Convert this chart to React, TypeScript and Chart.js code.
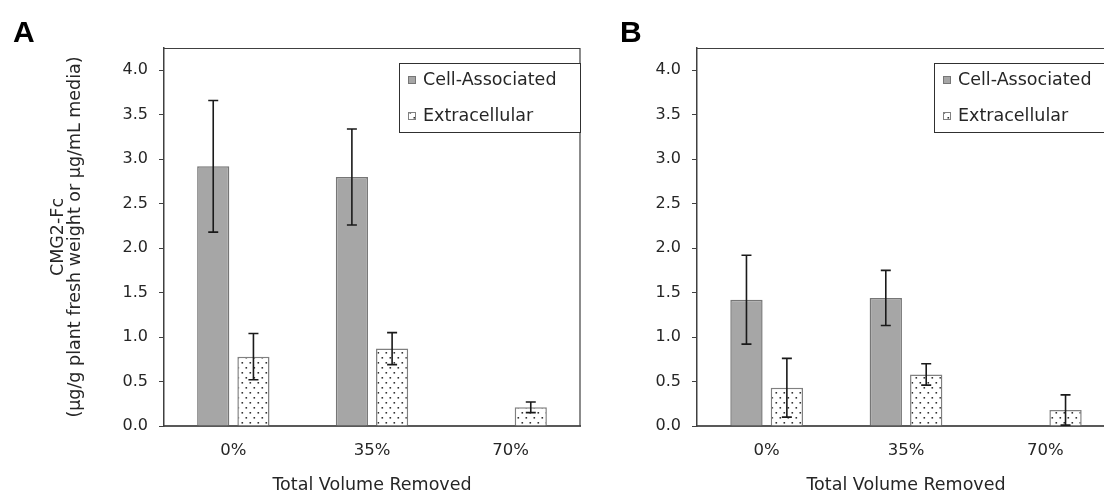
import React, { useEffect, useRef } from "react";
import { Chart, registerables } from "chart.js";

Chart.register(...registerables);

// ---- data ----
const categories = ["0%", "35%", "70%"];
const seriesNames = ["Cell-Associated", "Extracellular"];
const cellA: (number | null)[] = [2.92, 2.8, null];
const cellAErr: (number | null)[] = [0.74, 0.54, null];
const extraA: (number | null)[] = [0.78, 0.87, 0.21];
const extraAErr: (number | null)[] = [0.26, 0.18, 0.06];
const cellB: (number | null)[] = [1.42, 1.44, null];
const cellBErr: (number | null)[] = [0.5, 0.31, null];
const extraB: (number | null)[] = [0.43, 0.58, 0.18];
const extraBErr: (number | null)[] = [0.33, 0.12, 0.17];
const yTicks = [0, 0.5, 1, 1.5, 2, 2.5, 3, 3.5, 4];
const yMax = 4.25;
const xTitle = "Total Volume Removed";
const yTitle = ["CMG2-Fc", "(µg/g plant fresh weight or µg/mL media)"];
const panelLabels = ["A", "B"];

const FONT = "'DejaVu Sans', 'Liberation Sans', Arial, sans-serif";
const TEXT = "#262626";
const AXIS = "#404040";
const CELL_FILL = "#a6a6a6";
const CELL_EDGE = "#767676";
const EXTRA_EDGE = "#808080";

function makeDotPattern(): CanvasPattern | string {
  const c = document.createElement("canvas");
  c.width = 8;
  c.height = 10;
  const g = c.getContext("2d");
  if (!g) return "#ffffff";
  g.fillStyle = "#ffffff";
  g.fillRect(0, 0, 8, 10);
  g.fillStyle = "#333333";
  g.fillRect(1.5, 2, 1.6, 1.6);
  g.fillRect(5.5, 7, 1.6, 1.6);
  const p = g.createPattern(c, "repeat");
  return p || "#ffffff";
}

const errorBarsPlugin = {
  id: "errorBars",
  afterDatasetsDraw(chart: any, _args: any, opts: any) {
    const errs: (number | null)[][] = opts.errors || [];
    const ys = chart.scales.y;
    const ctx = chart.ctx as CanvasRenderingContext2D;
    ctx.save();
    ctx.strokeStyle = "#1a1a1a";
    ctx.lineWidth = 1.6;
    chart.data.datasets.forEach((ds: any, i: number) => {
      const meta = chart.getDatasetMeta(i);
      meta.data.forEach((bar: any, j: number) => {
        const v = ds.data[j];
        const e = errs[i] ? errs[i][j] : null;
        if (v == null || e == null) return;
        const x = bar.x;
        const yt = ys.getPixelForValue(v + e);
        const yb = ys.getPixelForValue(Math.max(0, v - e));
        const cap = 5;
        ctx.beginPath();
        ctx.moveTo(x, yt);
        ctx.lineTo(x, yb);
        ctx.moveTo(x - cap, yt);
        ctx.lineTo(x + cap, yt);
        ctx.moveTo(x - cap, yb);
        ctx.lineTo(x + cap, yb);
        ctx.stroke();
      });
    });
    ctx.restore();
  },
};

const framePlugin = {
  id: "frameLegend",
  afterDraw(chart: any, _args: any, opts: any) {
    const ctx = chart.ctx as CanvasRenderingContext2D;
    const { left, top, right, bottom } = chart.chartArea;
    ctx.save();
    // top and right borders of plot area
    ctx.strokeStyle = AXIS;
    ctx.lineWidth = 1.2;
    ctx.beginPath();
    ctx.moveTo(left, top + 0.5);
    ctx.lineTo(right, top + 0.5);
    ctx.lineTo(right, bottom);
    ctx.stroke();

    // legend
    const bx = right - 181;
    const by = top + 15;
    const bw = 181;
    const bh = 69;
    ctx.fillStyle = "#ffffff";
    ctx.fillRect(bx, by, bw, bh);
    ctx.strokeStyle = "#303030";
    ctx.lineWidth = 1;
    ctx.strokeRect(bx + 0.5, by + 0.5, bw, bh);
    const rows = [top + 32, top + 68];
    const fills = [CELL_FILL, opts.pattern];
    const edges = [CELL_EDGE, EXTRA_EDGE];
    ctx.font = `17.5px ${FONT}`;
    ctx.textBaseline = "middle";
    ctx.textAlign = "left";
    rows.forEach((ry, k) => {
      ctx.fillStyle = fills[k];
      ctx.fillRect(bx + 9, ry - 4, 8, 8);
      ctx.strokeStyle = edges[k];
      ctx.lineWidth = 1;
      ctx.strokeRect(bx + 9.5, ry - 3.5, 7, 7);
      ctx.fillStyle = TEXT;
      ctx.fillText(seriesNames[k], bx + 24, ry);
    });

    // panel letter
    ctx.font = `bold 30px 'Liberation Sans', Arial, sans-serif`;
    ctx.fillStyle = "#000000";
    ctx.textBaseline = "alphabetic";
    ctx.fillText(opts.letter, opts.letterX, 42);
    ctx.restore();
  },
};

type PanelProps = {
  cell: (number | null)[];
  cellErr: (number | null)[];
  extra: (number | null)[];
  extraErr: (number | null)[];
  width: number;
  yWidth: number;
  padRight: number;
  showYTitle: boolean;
  letter: string;
  letterX: number;
  left: number;
};

function Panel(props: PanelProps) {
  const ref = useRef<HTMLCanvasElement | null>(null);
  useEffect(() => {
    const canvas = ref.current;
    if (!canvas) return;
    const pattern = makeDotPattern();
    const chart = new Chart(canvas, {
      type: "bar",
      data: {
        labels: categories,
        datasets: [
          {
            label: seriesNames[0],
            data: props.cell as any,
            backgroundColor: CELL_FILL,
            borderColor: CELL_EDGE,
            borderWidth: 1.5,
            categoryPercentage: 0.58,
            barPercentage: 0.8,
          },
          {
            label: seriesNames[1],
            data: props.extra as any,
            backgroundColor: pattern as any,
            borderColor: EXTRA_EDGE,
            borderWidth: 1.5,
            categoryPercentage: 0.58,
            barPercentage: 0.8,
          },
        ],
      },
      options: {
        responsive: false,
        animation: false,
        events: [],
        layout: { padding: { left: 0, top: 48, right: props.padRight, bottom: 0 } },
        plugins: {
          legend: { display: false },
          tooltip: { enabled: false },
          title: { display: false },
          errorBars: { errors: [props.cellErr, props.extraErr] },
          frameLegend: { pattern, letter: props.letter, letterX: props.letterX },
        } as any,
        scales: {
          x: {
            grid: { display: false, drawTicks: false },
            border: { display: true, color: "#595959", width: 2 },
            ticks: { font: { family: FONT, size: 16.5 }, color: TEXT, padding: 15 },
            title: {
              display: true,
              text: xTitle,
              font: { family: FONT, size: 17.5, lineHeight: "18px" },
              color: TEXT,
              padding: 0,
            },
            afterFit: (s: any) => {
              s.height = 68;
            },
          },
          y: {
            min: 0,
            max: yMax,
            afterBuildTicks: (s: any) => {
              s.ticks = yTicks.map((v) => ({ value: v }));
            },
            ticks: {
              font: { family: FONT, size: 16 },
              color: TEXT,
              padding: 11,
              callback: (v: any) => Number(v).toFixed(1),
            },
            grid: {
              drawOnChartArea: false,
              drawTicks: true,
              tickLength: 5,
              color: AXIS,
              tickColor: AXIS,
            },
            border: { display: true, color: AXIS, width: 1.5 },
            title: {
              display: props.showYTitle,
              text: yTitle,
              font: { family: FONT, size: 17.5, lineHeight: "17px" },
              color: TEXT,
              padding: { top: 50, bottom: 0 },
            },
            afterFit: (s: any) => {
              s.width = props.yWidth;
            },
          },
        },
      },
      plugins: [errorBarsPlugin, framePlugin],
    });
    return () => chart.destroy();
  }, []);
  return (
    <canvas
      ref={ref}
      width={props.width}
      height={494}
      style={{ position: "absolute", left: props.left, top: 0, width: props.width, height: 494 }}
    />
  );
}

export default function App() {
  return (
    <div
      style={{
        position: "fixed",
        left: 0,
        top: 0,
        width: 1104,
        height: 494,
        overflow: "hidden",
        background: "#ffffff",
      }}
    >
      <Panel
        cell={cellA}
        cellErr={cellAErr}
        extra={extraA}
        extraErr={extraAErr}
        width={590}
        yWidth={164}
        padRight={10}
        showYTitle={true}
        letter={panelLabels[0]}
        letterX={13}
        left={0}
      />
      <Panel
        cell={cellB}
        cellErr={cellBErr}
        extra={extraB}
        extraErr={extraBErr}
        width={540}
        yWidth={107}
        padRight={15}
        showYTitle={false}
        letter={panelLabels[1]}
        letterX={30}
        left={590}
      />
    </div>
  );
}
